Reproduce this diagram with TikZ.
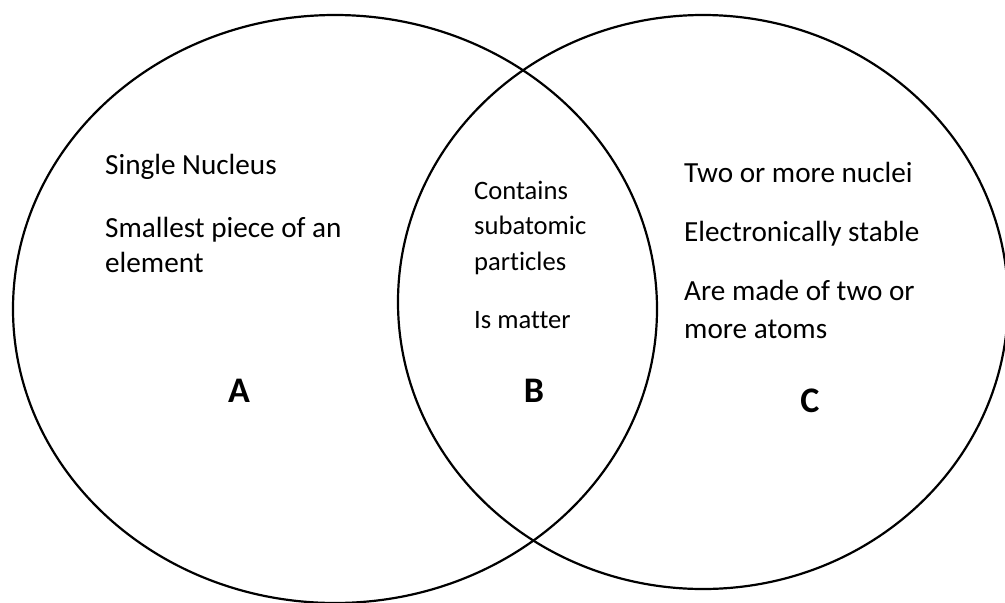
\documentclass[tikz,border=0pt]{standalone}
\usepackage{fontspec}
\setmainfont{Carlito}[Ligatures=NoCommon]
\begin{document}
\begin{tikzpicture}[x=1pt,y=-1pt,
  ring/.style={draw=black,line width=2.2pt},
  txt/.style={anchor=base west,inner sep=0pt,font=\fontsize{29.2}{35}\selectfont},
  smalltxt/.style={anchor=base west,inner sep=0pt,font=\fontsize{26.6}{32}\selectfont},
  lbl/.style={anchor=base,inner sep=0pt,font=\fontsize{36}{42}\selectfont\bfseries}]
\useasboundingbox (0,0) rectangle (1005,603);
\draw[ring] (335,309) ellipse [x radius=322, y radius=294];
\draw[ring] (703,302) ellipse [x radius=305, y radius=287];
% left set
\node[txt] (a1) at (105,174) {Single Nucleus};
\node[txt] (a2) at (105,237) {Smallest piece of an};
\node[txt] (a3) at (105,272) {element};
% intersection
\node[smalltxt] (b1) at (474,199) {Contains};
\node[smalltxt] (b2) at (474,234) {subatomic};
\node[smalltxt] (b3) at (474,270) {particles};
\node[smalltxt] (b4) at (474,328) {Is matter};
% right set
\node[txt] (c1) at (684,182) {Two or more nuclei};
\node[txt] (c2) at (684,241) {Electronically stable};
\node[txt] (c3) at (684,300) {Are made of two or};
\node[txt] (c4) at (684,338) {more atoms};
% labels
\node[lbl] (A) at (239,402) {A};
\node[lbl] (B) at (534,402) {B};
\node[lbl] (C) at (810,412) {C};
\end{tikzpicture}
\end{document}
